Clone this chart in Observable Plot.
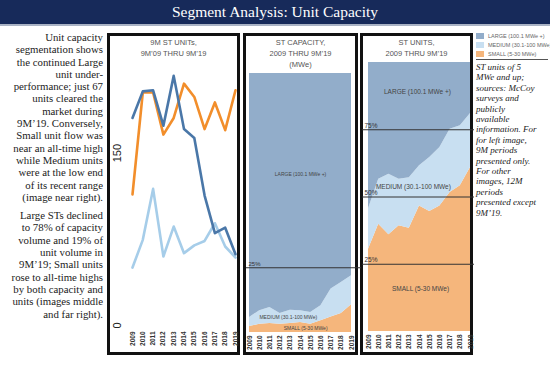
<!DOCTYPE html>
<html><head><meta charset="utf-8">
<script src="https://cdn.jsdelivr.net/npm/d3@7"></script>
<script src="https://cdn.jsdelivr.net/npm/@observablehq/plot@0.6"></script>
<style>
body{margin:0;background:#fff;}
#root{position:relative;width:550px;height:369px;overflow:hidden;font-family:"Liberation Serif","Times New Roman",serif;}
.abs{position:absolute;}
#titlebar{left:0;top:0;width:550px;height:24px;background:#172a5a;color:#fff;font-size:15.5px;text-align:center;line-height:24px;border-bottom:2px solid #aab3c5;}
.panel{position:absolute;border:3px solid #111;box-sizing:border-box;}
.ptitle{position:absolute;text-align:center;font-family:"Liberation Sans",Arial,sans-serif;font-size:7.5px;line-height:11px;color:#555;white-space:nowrap;}
#lefttext{left:0;top:31px;width:103px;text-align:right;font-size:10.8px;line-height:12.3px;color:#222;white-space:nowrap;}
#lefttext p{margin:0 0 6px 0;}
#legend{left:476px;top:33px;width:70px;font-family:"Liberation Sans",Arial,sans-serif;font-size:5.5px;color:#666;}
.lg{height:9px;line-height:7px;white-space:nowrap;}
.sw{display:inline-block;width:8px;height:6px;vertical-align:top;margin-right:4px;}
#note{left:476px;top:59px;width:72px;border-top:1px solid #555;padding-top:2px;font-style:italic;font-size:9px;line-height:10.4px;color:#222;white-space:nowrap;}
</style></head>
<body><div id="root">
<div id="titlebar" class="abs">Segment Analysis: Unit Capacity</div>
<div id="lefttext" class="abs">
<p>Unit capacity<br>segmentation shows<br>the continued Large<br>unit under-<br>performance; just 67<br>units cleared the<br>market during<br>9M’19. Conversely,<br>Small unit flow was<br>near an all-time high<br>while Medium units<br>were at the low end<br>of its recent range<br>(image near right).</p>
<p>Large STs declined<br>to 78% of capacity<br>volume and 19% of<br>unit volume in<br>9M’19; Small units<br>rose to all-time highs<br>by both capacity and<br>units (images middle<br>and far right).</p>
</div>
<div class="panel" style="left:107px;top:33px;width:133px;height:322px;"></div>
<div class="panel" style="left:243px;top:33px;width:115px;height:322px;"></div>
<div class="panel" style="left:360px;top:33px;width:113px;height:322px;"></div>
<div class="ptitle" style="left:110px;top:37px;width:127px;">9M ST UNITs,<br>9M’09 THRU 9M’19</div>
<div class="ptitle" style="left:246px;top:37px;width:109px;">ST CAPACITY,<br>2009 THRU 9M’19<br>(MWe)</div>
<div class="ptitle" style="left:363px;top:37px;width:107px;">ST UNITS,<br>2009 THRU 9M’19</div>
<div id="legend" class="abs">
<div class="lg"><span class="sw" style="background:#92adca"></span>LARGE (100.1 MWe +)</div>
<div class="lg"><span class="sw" style="background:#c8dff1"></span>MEDIUM (30.1-100 MWe)</div>
<div class="lg"><span class="sw" style="background:#f5b67c"></span>SMALL (5-30 MWe)</div>
</div>
<div id="note" class="abs">ST units of 5<br>MWe and up;<br>sources: McCoy<br>surveys and<br>publicly<br>available<br>information. For<br>for left image,<br>9M periods<br>presented only.<br>For other<br>images, 12M<br>periods<br>presented except<br>9M’19.</div>
</div>
<script>
const years = [2009, 2010, 2011, 2012, 2013, 2014, 2015, 2016, 2017, 2018, 2019];
const segments = ["Large", "Medium", "Small"];
// 9M unit counts (left panel)
const unitsLarge  = [190, 214, 215, 183, 228, 180, 172, 120, 86, 91, 67];
const unitsMedium = [55, 80, 126, 65, 92, 68, 75, 79, 95, 74, 64];
const unitsSmall  = [121, 213, 213, 175, 190, 221, 209, 180, 204, 179, 215];
const yTicks = [0, 150];
// capacity shares, % (middle panel)
const capSmall  = [2.3, 3.2, 3.5, 3.2, 3.5, 3.9, 3.2, 4.5, 6.0, 7.3, 10.7];
const capMedium = [3.5, 5.2, 6.2, 4.1, 5.1, 4.5, 4.5, 5.8, 10.8, 12.0, 11.2];
const capLarge  = [94.2, 91.6, 90.3, 92.7, 91.4, 91.6, 92.3, 89.7, 83.2, 80.7, 78.1];
// unit shares, % (right panel)
const unitShareSmall  = [30.6, 39.9, 36.0, 39.3, 38.4, 46.7, 44.6, 46.7, 51.7, 54.2, 61.0];
const unitShareMedium = [15.0, 16.7, 22.5, 17.3, 18.8, 14.9, 20.1, 21.7, 23.5, 22.3, 20.0];
const unitShareLarge  = [54.4, 43.4, 41.5, 43.4, 42.8, 38.4, 35.3, 31.6, 24.8, 23.5, 19.0];
const capRules = [0.25];
const unitRules = [0.25, 0.5, 0.75];
const segLabels = ["LARGE (100.1 MWe +)", "MEDIUM (30.1-100 MWe)", "SMALL (5-30 MWe)"];

const root = document.getElementById("root");
const font = "Liberation Sans, Arial, sans-serif";
function place(svg, left, top) {
  svg.style.position = "absolute";
  svg.style.left = left + "px";
  svg.style.top = top + "px";
  root.appendChild(svg);
}
const xAxis = () => Plot.axisX({ticks: years, tickFormat: d => String(d), tickRotate: -90, tickSize: 0, tickPadding: 3, fontSize: 6.5, fontWeight: "bold", fill: "#333", label: null});

// Panel 1
const lineData = [];
years.forEach((y, i) => {
  lineData.push({year: y, seg: "Medium", v: unitsMedium[i]});
  lineData.push({year: y, seg: "Small", v: unitsSmall[i]});
  lineData.push({year: y, seg: "Large", v: unitsLarge[i]});
});
const p1 = Plot.plot({
  width: 127, height: 316, marginLeft: 22, marginRight: 2, marginTop: 15, marginBottom: 24,
  style: {background: "transparent", overflow: "visible", fontFamily: font},
  x: {domain: [2009, 2019]}, y: {domain: [0, 250], axis: null},
  color: {domain: segments, range: ["#4a77a8", "#a6cde9", "#f28e2b"]},
  marks: [
    Plot.line(lineData.filter(d => d.seg === "Medium"), {x: "year", y: "v", stroke: "seg", strokeWidth: 2.6}),
    Plot.line(lineData.filter(d => d.seg === "Small"), {x: "year", y: "v", stroke: "seg", strokeWidth: 2.6}),
    Plot.line(lineData.filter(d => d.seg === "Large"), {x: "year", y: "v", stroke: "seg", strokeWidth: 2.6}),
    xAxis(),
    Plot.text(yTicks, {y: d => d, text: d => String(d), frameAnchor: "left", dx: -15, rotate: -90, fontSize: 11, fill: "#222"})
  ]
});
place(p1, 110, 36);

const colors = {domain: segments, range: ["#92adca", "#c8dff1", "#f5b67c"]};
const order = ["Small", "Medium", "Large"];

// Panel 2
const capData = [];
years.forEach((y, i) => {
  capData.push({year: y, seg: "Small", v: capSmall[i]});
  capData.push({year: y, seg: "Medium", v: capMedium[i]});
  capData.push({year: y, seg: "Large", v: capLarge[i]});
});
const p2 = Plot.plot({
  width: 109, height: 316, marginLeft: 3, marginRight: 4, marginTop: 37, marginBottom: 20,
  style: {background: "transparent", overflow: "visible", fontFamily: font},
  x: {domain: [2009, 2019]}, y: {domain: [0, 1], axis: null}, color: colors,
  marks: [
    Plot.areaY(capData, {x: "year", y: "v", fill: "seg", order, offset: "normalize"}),
    Plot.ruleY(capRules, {stroke: "#333", strokeWidth: 1, insetLeft: -3, insetRight: -10}),
    Plot.text(capRules, {y: d => d, text: d => d3.format(".0%")(d), frameAnchor: "left", textAnchor: "start", dy: -4, dx: -1, fontSize: 6, fill: "#333"}),
    Plot.text([segLabels[0]], {x: 2014, y: 0.61, text: d => d, fontSize: 5, fill: "#444"}),
    Plot.text([segLabels[1]], {x: 2012.8, y: 0.058, text: d => d, fontSize: 5, fill: "#444"}),
    Plot.text([segLabels[2]], {x: 2014.5, y: 0.016, text: d => d, fontSize: 5, fill: "#444"}),
    xAxis()
  ]
});
place(p2, 246, 36);

// Panel 3
const unitData = [];
years.forEach((y, i) => {
  unitData.push({year: y, seg: "Small", v: unitShareSmall[i]});
  unitData.push({year: y, seg: "Medium", v: unitShareMedium[i]});
  unitData.push({year: y, seg: "Large", v: unitShareLarge[i]});
});
const p3 = Plot.plot({
  width: 107, height: 316, marginLeft: 5, marginRight: 0, marginTop: 26, marginBottom: 21,
  style: {background: "transparent", overflow: "visible", fontFamily: font},
  x: {domain: [2009, 2019]}, y: {domain: [0, 1], axis: null}, color: colors,
  marks: [
    Plot.areaY(unitData, {x: "year", y: "v", fill: "seg", order, offset: "normalize"}),
    Plot.ruleY(unitRules, {stroke: "#333", strokeWidth: 1, insetLeft: -6, insetRight: -4}),
    Plot.text(unitRules, {y: d => d, text: d => d3.format(".0%")(d), frameAnchor: "left", textAnchor: "start", dy: -4, dx: -4, fontSize: 6.5, fill: "#333"}),
    Plot.text([segLabels[0]], {x: 2013.8, y: 0.89, text: d => d, fontSize: 6.5, fill: "#444"}),
    Plot.text([segLabels[1]], {x: 2013.4, y: 0.537, text: d => d, fontSize: 6.5, fill: "#444"}),
    Plot.text([segLabels[2]], {x: 2014.1, y: 0.159, text: d => d, fontSize: 6.5, fill: "#444"}),
    xAxis()
  ]
});
place(p3, 363, 36);
</script>
</body></html>
